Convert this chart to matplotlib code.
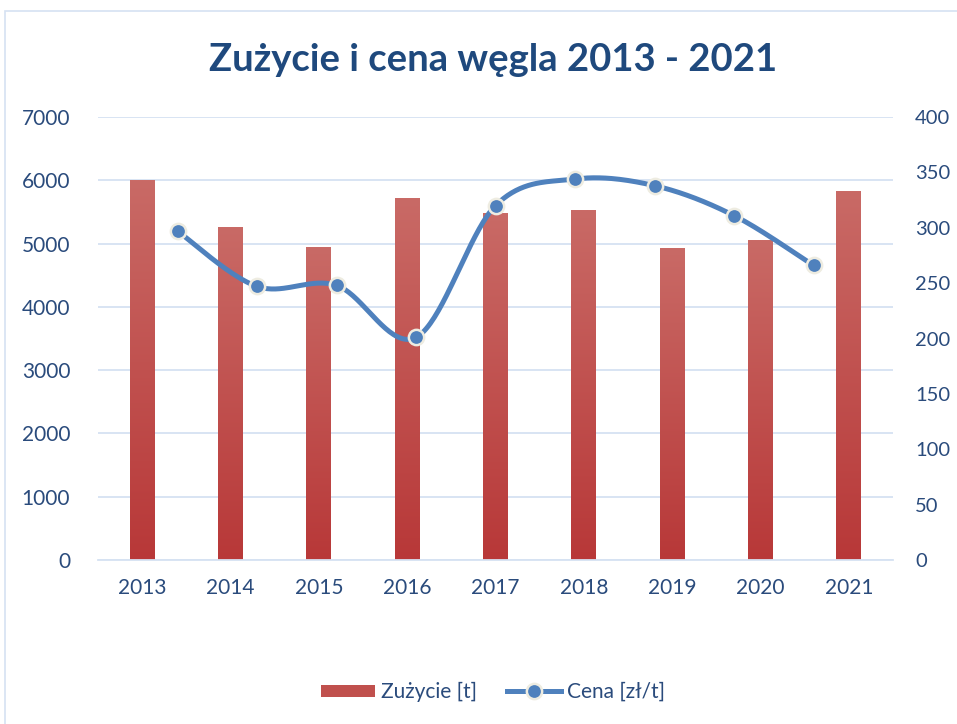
import numpy as np
import matplotlib.pyplot as plt
from matplotlib.patches import Rectangle
from matplotlib.lines import Line2D
from matplotlib.colors import LinearSegmentedColormap

years = ['2013', '2014', '2015', '2016', '2017', '2018', '2019', '2020', '2021']
zuzycie = [5990, 5260, 4945, 5705, 5480, 5515, 4915, 5055, 5830]
cena = [297, 247, 248, 201, 320, 344, 338, 311, 266]

TXT = '#2A4B7C'
GRID = '#D6E2F2'
LINE = '#4F81BD'

plt.rcParams['font.family'] = ['Lato', 'DejaVu Sans']


def smooth(x, y, n=40):
    # excel-like smoothing: bezier with catmull-rom control points
    x = np.asarray(x, float)
    y = np.asarray(y, float)
    px, py = [], []
    for i in range(len(x) - 1):
        x0, y0 = (x[i - 1], y[i - 1]) if i > 0 else (x[i], y[i])
        x3, y3 = (x[i + 2], y[i + 2]) if i + 2 < len(x) else (x[i + 1], y[i + 1])
        c1x = x[i] + (x[i + 1] - x0) / 6
        c1y = y[i] + (y[i + 1] - y0) / 6
        c2x = x[i + 1] - (x3 - x[i]) / 6
        c2y = y[i + 1] - (y3 - y[i]) / 6
        t = np.linspace(0, 1, n)
        b0, b1, b2, b3 = (1 - t) ** 3, 3 * t * (1 - t) ** 2, 3 * t ** 2 * (1 - t), t ** 3
        px.extend(b0 * x[i] + b1 * c1x + b2 * c2x + b3 * x[i + 1])
        py.extend(b0 * y[i] + b1 * c1y + b2 * c2y + b3 * y[i + 1])
    return np.array(px), np.array(py)


fig = plt.figure(figsize=(9.57, 7.24), dpi=100)
fig.patches.append(Rectangle((5 / 957, -0.05), 1.0, 1 - 11 / 724 + 0.05,
                             transform=fig.transFigure, fill=False,
                             edgecolor='#D6E2F2', lw=1.2))

ax = fig.add_axes([98 / 957, 1 - 560 / 724, 795 / 957, 443 / 724])
ax2 = ax.twinx()

xb = np.arange(len(years))
w = 0.28
cmap = LinearSegmentedColormap.from_list('bar', ['#B83838', '#C96A66'])
grad = np.linspace(0, 1, 256).reshape(-1, 1)
for xi, v in zip(xb, zuzycie):
    ax.imshow(grad, cmap=cmap, origin='lower', aspect='auto',
              extent=(xi - w / 2, xi + w / 2, 0, v), zorder=2)
ax.set_xlim(-0.5, len(years) - 0.5)
ax.set_ylim(0, 7000)
ax.set_yticks(range(0, 7001, 1000))
ax.set_xticks(xb)
ax.set_xticklabels(years)
ax.grid(axis='y', color=GRID, lw=1.3, zorder=0)
ax.set_axisbelow(True)
for s in ['top', 'right', 'left']:
    ax.spines[s].set_visible(False)
ax.spines['bottom'].set_color(GRID)
ax.spines['bottom'].set_linewidth(1.3)
ax.tick_params(length=0, labelsize=15, colors=TXT, pad=13)
ax.tick_params(axis='y', pad=20)

# price line sits on its own evenly spaced category axis
xl = -0.5 + len(years) * (np.arange(1, len(cena) + 1)) / (len(cena) + 1)
sx, sy = smooth(xl, cena)
ax2.plot(sx, sy, color=LINE, lw=3.6, solid_capstyle='round', zorder=3)
ax2.plot(xl, cena, 'o', ms=11, mfc=LINE, mec='#EEECE1', mew=1.8, zorder=4)
ax2.set_ylim(0, 400)
ax2.set_yticks(range(0, 401, 50))
for s in ['top', 'right', 'left', 'bottom']:
    ax2.spines[s].set_visible(False)
ax2.tick_params(length=0, labelsize=14.5, colors=TXT, pad=16)

fig.text(493 / 957, 1 - 60 / 724, 'Zużycie i cena węgla 2013 - 2021', ha='center', va='center',
         fontsize=27.5, fontweight='bold', color='#1F497D')

handles = [Rectangle((0, 0), 1, 1, facecolor='#C0504D'),
           Line2D([], [], color=LINE, lw=3.6, marker='o', ms=11, mfc=LINE, mec='#EEECE1', mew=1.8)]
fig.legend(handles, ['Zużycie [t]', 'Cena [zł/t]'], loc='center', bbox_to_anchor=(493 / 957, 1 - 692 / 724),
           ncol=2, frameon=False, fontsize=15, labelcolor=TXT, handlelength=2.6,
           handleheight=0.5, handletextpad=0.3, columnspacing=1.4)

fig.savefig('out.png', dpi=100)
